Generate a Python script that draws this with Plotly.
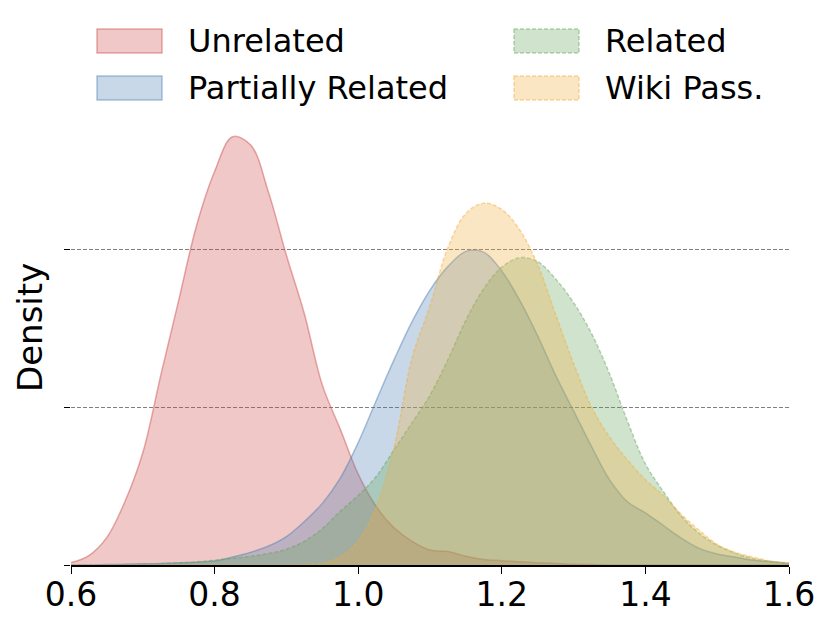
import plotly.graph_objects as go

# density curves on a common score grid
score = [0.600, 0.625, 0.650, 0.675, 0.700, 0.725, 0.750, 0.775, 0.800, 0.825, 0.850,
         0.875, 0.900, 0.925, 0.950, 0.975, 1.000, 1.025, 1.050, 1.075, 1.100,
         1.125, 1.150, 1.175, 1.200, 1.225, 1.250, 1.275, 1.300, 1.325, 1.350,
         1.375, 1.400, 1.425, 1.450, 1.475, 1.500, 1.525, 1.550, 1.575, 1.600]

unrelated = [0.03, 0.12, 0.35, 0.80, 1.42, 2.40, 3.35, 4.30, 4.98, 5.42, 5.32,
             4.72, 3.92, 3.18, 2.28, 1.72, 1.15, 0.74, 0.47, 0.30, 0.19,
             0.17, 0.11, 0.07, 0.055, 0.04, 0.03, 0.02, 0.01, 0.005, 0.0,
             0.0, 0.0, 0.0, 0.0, 0.0, 0.0, 0.0, 0.0, 0.0, 0.0]

partially = [0.0, 0.0, 0.005, 0.01, 0.015, 0.02, 0.03, 0.035, 0.05, 0.10, 0.16,
             0.24, 0.36, 0.55, 0.78, 1.10, 1.55, 2.08, 2.60, 3.08, 3.48,
             3.78, 3.97, 3.96, 3.72, 3.35, 2.90, 2.40, 1.95, 1.50, 1.08,
             0.80, 0.66, 0.50, 0.34, 0.21, 0.14, 0.10, 0.06, 0.04, 0.02]

related = [0.0, 0.0, 0.0, 0.005, 0.01, 0.015, 0.025, 0.04, 0.06, 0.085, 0.11,
           0.145, 0.20, 0.30, 0.46, 0.68, 0.88, 1.12, 1.46, 1.80, 2.15,
           2.60, 3.10, 3.50, 3.77, 3.89, 3.84, 3.62, 3.32, 2.93, 2.42,
           1.82, 1.28, 0.93, 0.62, 0.40, 0.25, 0.15, 0.08, 0.045, 0.025]

wiki = [0.0, 0.0, 0.0, 0.0, 0.0, 0.0, 0.0, 0.0, 0.0, 0.0, 0.0,
        0.0, 0.0, 0.005, 0.02, 0.10, 0.30, 0.73, 1.49, 2.62, 3.28,
        4.02, 4.45, 4.58, 4.50, 4.24, 3.80, 3.17, 2.55, 2.00, 1.62,
        1.33, 1.08, 0.88, 0.64, 0.44, 0.26, 0.16, 0.10, 0.05, 0.025]

x_ticks = [0.6, 0.8, 1.0, 1.2, 1.4, 1.6]
y_ticks = [0, 2, 4]

series = [
    ("Unrelated", unrelated, (205, 72, 72), "solid"),
    ("Partially Related", partially, (72, 125, 178), "solid"),
    ("Related", related, (98, 165, 88), "dash"),
    ("Wiki Pass.", wiki, (242, 172, 58), "dash"),
]


def rgba(c, a):
    return "rgba(%d,%d,%d,%.2f)" % (c[0], c[1], c[2], a)


W, H = 831, 627
L, R, T, B = 71, 42, 91, 62
PW, PH = W - L - R, H - T - B


def px_x(p):
    return (p - L) / PW


def px_y(p):
    return (H - B - p) / PH


fig = go.Figure()
for name, ys, col, dash in series:
    fig.add_trace(go.Scatter(
        x=score, y=ys, name=name, mode="lines",
        line=dict(color=rgba(col, 0.45), width=1.5,
                  dash="4px,2px" if dash == "dash" else "solid",
                  shape="spline", smoothing=1.0),
        fill="tozeroy", fillcolor=rgba(col, 0.3),
        showlegend=False, hoverinfo="skip",
    ))

# hand-drawn legend, two columns like the original
legend_pos = {
    "Unrelated": (97, 29),
    "Partially Related": (97, 76),
    "Related": (514, 29),
    "Wiki Pass.": (514, 76),
}
for name, ys, col, dash in series:
    lx, ly = legend_pos[name]
    fig.add_shape(
        type="rect", xref="paper", yref="paper",
        x0=px_x(lx), x1=px_x(lx + 65), y0=px_y(ly), y1=px_y(ly + 24),
        fillcolor=rgba(col, 0.3),
        line=dict(color=rgba(col, 0.45), width=1.5,
                  dash="4px,2px" if dash == "dash" else "solid"),
    )
    fig.add_annotation(
        text=name, xref="paper", yref="paper",
        x=px_x(lx + 89), y=px_y(ly + 12), xanchor="left", yanchor="middle",
        showarrow=False, font=dict(size=32, color="black"),
    )

fig.add_annotation(
    text="Density", xref="paper", yref="paper", x=px_x(30), y=0.5,
    xanchor="center", yanchor="middle", textangle=-90, showarrow=False,
    font=dict(size=34, color="black"),
)

fig.update_xaxes(
    range=[0.6, 1.6], tickvals=x_ticks, ticktext=["%.1f" % v for v in x_ticks],
    ticks="outside", ticklen=7, tickwidth=1.3, tickcolor="black",
    showline=True, linecolor="black", linewidth=1.5, ticklabelstandoff=-7,
    showgrid=False, zeroline=False, tickfont=dict(size=33, color="black"),
)
fig.update_yaxes(
    range=[0, 6], tickvals=y_ticks, showticklabels=False,
    ticks="outside", ticklen=6, tickwidth=1.3, tickcolor="black",
    showline=False, zeroline=False,
    showgrid=True, gridcolor="#7f7f7f", gridwidth=0.8, griddash="4px,2px",
)
fig.update_layout(
    width=W, height=H, margin=dict(l=L, r=R, t=T, b=B),
    plot_bgcolor="white", paper_bgcolor="white",
    font=dict(family="DejaVu Sans", color="black"),
)

fig.write_html("out.html", config={"displayModeBar": False},
               post_script="document.body.style.margin='0';")
